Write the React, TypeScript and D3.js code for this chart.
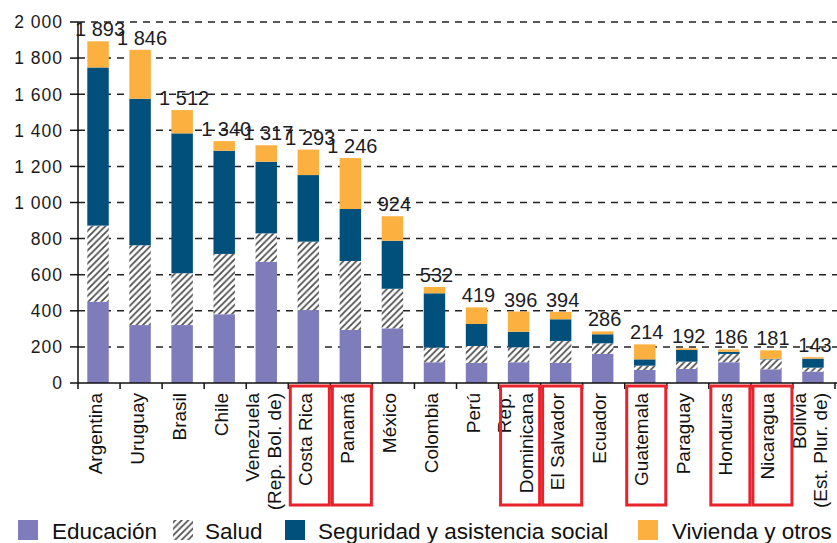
import React from 'react';
import * as d3 from 'd3';

// countries, each label split into its printed lines
const categories = [
  'Argentina', 'Uruguay', 'Brasil', 'Chile', 'Venezuela (Rep. Bol. de)', 'Costa Rica', 'Panamá',
  'México', 'Colombia', 'Perú', 'Rep. Dominicana', 'El Salvador', 'Ecuador', 'Guatemala',
  'Paraguay', 'Honduras', 'Nicaragua', 'Bolivia (Est. Plur. de)'
];
const categoryLines = [
  ['Argentina'], ['Uruguay'], ['Brasil'], ['Chile'], ['Venezuela', '(Rep. Bol. de)'], ['Costa Rica'], ['Panamá'],
  ['México'], ['Colombia'], ['Perú'], ['Rep.', 'Dominicana'], ['El Salvador'], ['Ecuador'], ['Guatemala'],
  ['Paraguay'], ['Honduras'], ['Nicaragua'], ['Bolivia', '(Est. Plur. de)']
];
const highlighted = ['Costa Rica', 'Panamá', 'Rep. Dominicana', 'El Salvador', 'Guatemala', 'Honduras', 'Nicaragua'];

const educacion = [450, 321, 321, 381, 672, 404, 294, 303, 115, 112, 115, 112, 161, 72, 78, 115, 76, 63];
const salud = [422, 442, 287, 334, 157, 379, 382, 219, 81, 93, 83, 121, 59, 24, 40, 46, 55, 22];
const seguridad = [876, 812, 775, 572, 397, 369, 288, 266, 301, 122, 86, 120, 50, 35, 65, 12, 3, 50];
const vivienda = [145, 271, 129, 53, 91, 141, 282, 136, 35, 92, 112, 41, 16, 83, 9, 13, 47, 8];

const seriesNames = ['Educación', 'Salud', 'Seguridad y asistencia social', 'Vivienda y otros'];
const yTicks = [0, 200, 400, 600, 800, 1000, 1200, 1400, 1600, 1800, 2000];

const colors: Record<string, string> = {
  'Educación': '#7f7cbc',
  'Salud': 'url(#hatch)',
  'Seguridad y asistencia social': '#00507b',
  'Vivienda y otros': '#fbb03f'
};

const W = 837;
const H = 543;
const FONT = '"Liberation Sans", Arial, sans-serif';

const locale = d3.formatLocale({ decimal: ',', thousands: ' ', grouping: [3], currency: ['', ''] });
const fmt = locale.format(',d');

export default function App() {
  const rows = categories.map((c, i) => ({
    country: c,
    'Educación': educacion[i],
    'Salud': salud[i],
    'Seguridad y asistencia social': seguridad[i],
    'Vivienda y otros': vivienda[i]
  }));
  const stacked = d3.stack<any>().keys(seriesNames)(rows);

  const x = d3.scaleBand()
    .domain(categories)
    .range([78, 835])
    .paddingInner(0.49)
    .paddingOuter(0.245);
  const y = d3.scaleLinear().domain([0, 2000]).range([383, 22]);

  const step = x.step();
  const bw = x.bandwidth();
  const bandStart = (c: string) => (x(c) || 0) - (step - bw) / 2;

  // legend layout (swatch x, text x)
  const legendPos = [[18, 52], [173, 205], [285, 318], [638, 672]];

  return (
    <div style={{ position: 'fixed', left: 0, top: 0, background: '#fff' }}>
      <svg width={W} height={H} style={{ display: 'block', fontFamily: FONT }}>
        <defs>
          <pattern id="hatch" patternUnits="userSpaceOnUse" width="6.5" height="6.5">
            <rect width="6.5" height="6.5" fill="#fff" />
            <path d="M-1,1 L1,-1 M0,6.5 L6.5,0 M5.5,7.5 L7.5,5.5" stroke="#4a4a4a" strokeWidth="1.7" />
          </pattern>
        </defs>
        <rect width={W} height={H} fill="#fff" />

        {/* gridlines */}
        {yTicks.filter(t => t > 0).map(t => (
          <line key={'g' + t} x1={78} x2={W} y1={y(t)} y2={y(t)}
            stroke="#222" strokeWidth={1.5} strokeDasharray="7,6" />
        ))}

        {/* bars */}
        {stacked.map(s => (
          <g key={s.key} fill={colors[s.key]}>
            {s.map((d, i) => (
              <rect key={i}
                x={(x(categories[i]) || 0) - 1}
                y={y(d[1])}
                width={bw}
                height={Math.max(0, y(d[0]) - y(d[1]))} />
            ))}
          </g>
        ))}

        {/* y axis */}
        <line x1={78} x2={78} y1={y(2000)} y2={y(0)} stroke="#111" strokeWidth={1.5} />
        {yTicks.map(t => (
          <g key={'t' + t}>
            <line x1={70} x2={78} y1={y(t)} y2={y(t)} stroke="#111" strokeWidth={1.5} />
            <text x={63} y={y(t)} dy="0.36em" textAnchor="end" fontSize={17.5} letterSpacing={1} fill="#1a1a1a">{fmt(t)}</text>
          </g>
        ))}

        {/* x axis */}
        <line x1={78} x2={W} y1={y(0)} y2={y(0)} stroke="#111" strokeWidth={1.5} />
        {categories.map(c => (
          <line key={'xt' + c} x1={bandStart(c)} x2={bandStart(c)} y1={y(0)} y2={y(0) + 6} stroke="#111" strokeWidth={1.5} />
        ))}
        <line x1={835} x2={835} y1={y(0)} y2={y(0) + 6} stroke="#111" strokeWidth={1.5} />

        {/* category labels */}
        {categories.map((c, i) => {
          const lines = categoryLines[i];
          const cx = (x(c) || 0) + bw / 2;
          return lines.map((ln, j) => (
            <text key={c + j}
              transform={`translate(${cx + 2.5 + (j - (lines.length - 1) / 2) * 21.5},393) rotate(-90)`}
              textAnchor="end" fontSize={19} fill="#111">{ln}</text>
          ));
        })}

        {/* highlight boxes */}
        {highlighted.map(c => (
          <rect key={'hl' + c} x={bandStart(c) + 2} y={386} width={step - 3} height={119}
            fill="none" stroke="#e8232b" strokeWidth={3} />
        ))}

        {/* totals */}
        {rows.map((r, i) => {
          const total = educacion[i] + salud[i] + seguridad[i] + vivienda[i];
          return (
            <text key={'v' + i} x={(x(r.country) || 0) + bw / 2 + 1} y={y(total) - 5}
              textAnchor="middle" fontSize={20} fill="#1c1c24">{fmt(total)}</text>
          );
        })}

        {/* legend */}
        {seriesNames.map((s, i) => (
          <g key={'l' + s}>
            <rect x={legendPos[i][0]} y={520} width={20} height={20} fill={colors[s]} />
            <text x={legendPos[i][1]} y={539} fontSize={22.5} fill="#111">{s}</text>
          </g>
        ))}
      </svg>
    </div>
  );
}
